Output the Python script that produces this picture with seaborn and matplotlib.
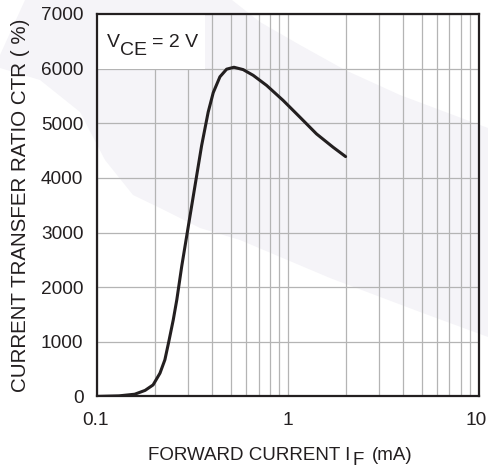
import matplotlib
matplotlib.use("Agg")
import matplotlib.pyplot as plt
import matplotlib.transforms as mtrans
import seaborn as sns
import pandas as pd
from matplotlib.patches import Polygon, Rectangle
from matplotlib.ticker import LogLocator, FixedLocator, FixedFormatter, NullFormatter

# ---- data ----
if_ma = [0.10, 0.13, 0.157, 0.178, 0.196, 0.213, 0.226, 0.237, 0.250, 0.261,
         0.277, 0.300, 0.325, 0.352, 0.381, 0.405, 0.439, 0.476, 0.52, 0.581,
         0.656, 0.771, 0.942, 1.152, 1.408, 1.72, 2.0]
ctr = [0, 10, 40, 110, 210, 425, 670, 1005, 1400, 1770,
       2384, 3120, 3855, 4590, 5204, 5560, 5850, 5990, 6025, 5982,
       5877, 5693, 5417, 5112, 4805, 4561, 4390]
x_ticks = [0.1, 1, 10]
x_ticklabels = ["0.1", "1", "10"]
y_ticks = [0, 1000, 2000, 3000, 4000, 5000, 6000, 7000]
y_ticklabels = [str(v) for v in y_ticks]

df = pd.DataFrame({"IF": if_ma, "CTR": ctr})

sns.set_style("white")
plt.rcParams["font.family"] = ["Liberation Sans", "DejaVu Sans"]

INK = "#231f20"
W, H = 488, 468
fig = plt.figure(figsize=(W / 100, H / 100), dpi=100)
fig.patch.set_facecolor("white")


def ftext(x, y, s, size, **kw):
    """Text placed at figure pixel position (x from left, y = baseline from top)."""
    fig.text(x / W, 1 - y / H, s, fontsize=size, color=INK, va="baseline",
             ha="left", zorder=5, **kw)


# faint watermark band on a background axes (pixel coordinates)
bg = fig.add_axes([0, 0, 1, 1], zorder=-1)
bg.set_xlim(0, W)
bg.set_ylim(H, 0)
bg.axis("off")
upper = [(0, 55), (25, 0), (232, 0), (260, 22), (300, 45), (345, 70), (400, 95), (488, 128)]
lower = [(488, 337), (420, 312), (330, 278), (240, 240), (200, 228), (160, 208),
         (133, 195), (105, 160), (80, 112), (40, 80), (0, 68)]
bg.add_patch(Polygon(upper + lower, closed=True, facecolor="#f5f4f8",
                     edgecolor="none"))

ax = fig.add_axes([97.3 / W, 1 - 396.4 / H, (479 - 97.3) / W, (396.4 - 14) / H], zorder=1)
ax.set_facecolor("none")
ax.set_axisbelow(True)

sns.lineplot(data=df, x="IF", y="CTR", ax=ax, color=INK, linewidth=2.2,
             zorder=3, estimator=None, sort=False)

ax.set_xscale("log")
ax.set_xlim(0.1, 10)
ax.set_ylim(0, 7000)

ax.xaxis.set_major_locator(FixedLocator(x_ticks))
ax.xaxis.set_major_formatter(FixedFormatter(x_ticklabels))
ax.xaxis.set_minor_locator(LogLocator(base=10, subs=range(2, 10)))
ax.xaxis.set_minor_formatter(NullFormatter())
ax.yaxis.set_major_locator(FixedLocator(y_ticks))
ax.yaxis.set_major_formatter(FixedFormatter(y_ticklabels))

gkw = dict(color="#b4b4b4", linewidth=0.9)
ax.grid(True, which="major", axis="both", **gkw)
ax.grid(True, which="minor", axis="x", **gkw)

ax.tick_params(axis="both", which="both", length=0, labelsize=13.7, colors=INK)
ax.tick_params(axis="y", pad=10)
ax.tick_params(axis="x", pad=11)

# nudge edge labels so they stay inside the canvas like the reference
fig.canvas.draw()
xlabels = ax.get_xticklabels()
xlabels[0].set_transform(xlabels[0].get_transform()
                         + mtrans.ScaledTranslation(-2 / 100, 0, fig.dpi_scale_trans))
xlabels[-1].set_transform(xlabels[-1].get_transform()
                          + mtrans.ScaledTranslation(-3 / 100, 0, fig.dpi_scale_trans))

for s in ax.spines.values():
    s.set_color(INK)
    s.set_linewidth(1.6)
    s.set_zorder(5)

# white box behind the condition label
ax.add_patch(Rectangle((0, 0.857), 0.283, 0.143, transform=ax.transAxes,
                       facecolor="white", edgecolor="none", zorder=1))

# condition label V_CE = 2 V (subscript nearly full size, as in the reference)
ftext(107, 47, "V", 14)
ftext(120, 55, "CE", 14)
ftext(152, 47, "= 2 V", 14)

# x label: FORWARD CURRENT I_F (mA)
ftext(148, 460, "FORWARD CURRENT I", 13.5)
ftext(352, 465, "F", 13.5)
ftext(372, 460, "(mA)", 13.5)

ax.set_xlabel("")
ax.set_ylabel("CURRENT TRANSFER RATIO CTR ( %)", fontsize=14.8,
              color=INK, labelpad=8)

fig.savefig("out.png", dpi=100, facecolor="white")
